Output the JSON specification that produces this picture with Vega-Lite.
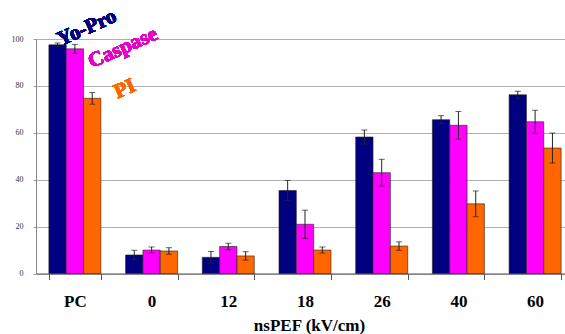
{
  "$schema": "https://vega.github.io/schema/vega-lite/v6.json",
  "width": 529,
  "height": 234.5,
  "autosize": {"type": "none"},
  "padding": {"left": 36, "top": 39, "right": 0, "bottom": 60.5},
  "background": "white",
  "config": {"view": {"stroke": null}, "font": "Liberation Serif, Times New Roman, serif"},
  "data": {"values": [
    {"cat": "PC", "series": "Yo-Pro", "value": 97.5, "err": 0.8},
    {"cat": "PC", "series": "Caspase", "value": 95.8, "err": 1.9},
    {"cat": "PC", "series": "PI", "value": 74.7, "err": 2.5},
    {"cat": "0", "series": "Yo-Pro", "value": 7.9, "err": 2.0},
    {"cat": "0", "series": "Caspase", "value": 10.0, "err": 1.3},
    {"cat": "0", "series": "PI", "value": 9.6, "err": 1.4},
    {"cat": "12", "series": "Yo-Pro", "value": 6.9, "err": 2.5},
    {"cat": "12", "series": "Caspase", "value": 11.5, "err": 1.4},
    {"cat": "12", "series": "PI", "value": 7.5, "err": 1.8},
    {"cat": "18", "series": "Yo-Pro", "value": 35.4, "err": 4.3},
    {"cat": "18", "series": "Caspase", "value": 21.0, "err": 6.0},
    {"cat": "18", "series": "PI", "value": 10.0, "err": 1.3},
    {"cat": "26", "series": "Yo-Pro", "value": 58.2, "err": 3.0},
    {"cat": "26", "series": "Caspase", "value": 43.0, "err": 5.7},
    {"cat": "26", "series": "PI", "value": 11.7, "err": 1.8},
    {"cat": "40", "series": "Yo-Pro", "value": 65.6, "err": 1.7},
    {"cat": "40", "series": "Caspase", "value": 63.2, "err": 5.9},
    {"cat": "40", "series": "PI", "value": 29.7, "err": 5.5},
    {"cat": "60", "series": "Yo-Pro", "value": 76.2, "err": 1.5},
    {"cat": "60", "series": "Caspase", "value": 64.7, "err": 4.9},
    {"cat": "60", "series": "PI", "value": 53.5, "err": 6.4}
  ]},
  "encoding": {
    "x": {
      "field": "cat", "type": "nominal",
      "sort": ["PC", "0", "12", "18", "26", "40", "60"],
      "scale": {"range": [0, 538], "paddingInner": 0.322, "paddingOuter": 0.168},
      "axis": {
        "title": "nsPEF  (kV/cm)",
        "titleFont": "Liberation Serif", "titleFontSize": 17, "titleFontWeight": "bold", "titleColor": "black",
        "titlePadding": 8, "titleX": 273,
        "labelFont": "Liberation Serif", "labelFontSize": 17, "labelFontWeight": "bold", "labelColor": "black",
        "labelAngle": 0, "labelPadding": 14,
        "tickBand": "extent", "tickSize": 6, "tickColor": "#555", "domainColor": "#555",
        "grid": false
      }
    },
    "y": {
      "field": "value", "type": "quantitative",
      "scale": {"domain": [0, 100], "nice": false},
      "axis": {
        "title": null, "values": [0, 20, 40, 60, 80, 100],
        "labelFont": "Liberation Serif", "labelFontSize": 8, "labelColor": "#333",
        "labelPadding": 10, "tickSize": 3, "tickColor": "#999", "domainColor": "#888",
        "grid": true, "gridColor": "#b0b0b0", "gridWidth": 1
      }
    },
    "xOffset": {"field": "series", "type": "nominal", "sort": ["Yo-Pro", "Caspase", "PI"], "scale": {"paddingInner": 0, "paddingOuter": 0}}
  },
  "layer": [
    {
      "mark": {"type": "bar", "stroke": "#222", "strokeWidth": 0.6},
      "encoding": {
        "color": {"field": "series", "type": "nominal", "legend": null,
          "scale": {"domain": ["Yo-Pro", "Caspase", "PI"], "range": ["#000080", "#ff00ff", "#ff6600"]}}
      }
    },
    {
      "mark": {"type": "errorbar", "ticks": {"size": 6, "color": "#222"}, "rule": {"color": "#222"}, "color": "#222"},
      "encoding": {"yError": {"field": "err"}}
    },
    {
      "mark": {"type": "text", "text": "Yo-Pro", "font": "Liberation Serif", "fontWeight": "bold", "fontSize": 21, "color": "#000080", "angle": -24, "align": "center", "baseline": "middle", "dx": 34.7, "dy": 15.5},
      "encoding": {"x": {"datum": "PC"}, "y": {"datum": 104.7}, "xOffset": {"value": 0}}
    },
    {
      "mark": {"type": "text", "text": "Caspase", "font": "Liberation Serif", "fontWeight": "bold", "fontSize": 21, "color": "#e600c8", "angle": -24, "align": "center", "baseline": "middle", "dx": 67.6, "dy": 30.1},
      "encoding": {"x": {"datum": "PC"}, "y": {"datum": 96.2}, "xOffset": {"value": 0}}
    },
    {
      "mark": {"type": "text", "text": "PI", "font": "Liberation Serif", "fontWeight": "bold", "fontSize": 21, "color": "#ff6600", "angle": -24, "align": "center", "baseline": "middle", "dx": 69.4, "dy": 30.9},
      "encoding": {"x": {"datum": "PC"}, "y": {"datum": 78.7}, "xOffset": {"value": 0}}
    }
  ]
}
